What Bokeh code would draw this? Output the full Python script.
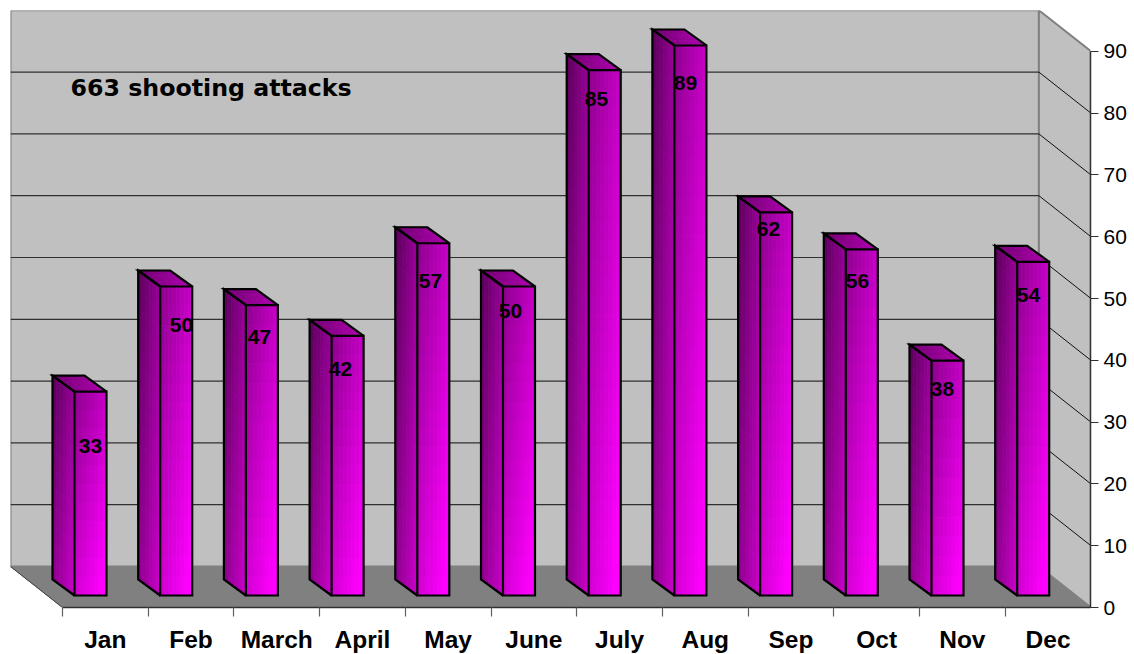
from bokeh.plotting import figure
from bokeh.models import Range1d, FixedTicker, LinearAxis, ColumnDataSource
from bokeh.core.properties import value
from bokeh.embed import file_html
from bokeh.resources import INLINE

# ---- data ----
months = ["Jan", "Feb", "March", "April", "May", "June", "July", "Aug", "Sep", "Oct", "Nov", "Dec"]
attacks = [33, 50, 47, 42, 57, 50, 85, 89, 62, 56, 38, 54]
y_ticks = [0, 10, 20, 30, 40, 50, 60, 70, 80, 90]
annotation = "663 shooting attacks"

# ---- layout constants (pixels on the page) ----
PX_X0, PX_SLOT = 62.0, 85.7      # page x of category 0, slot width
PX_Y0, PX_UNIT = 607.0, 6.18     # page y of value 0, pixels per unit
FRAME_L, FRAME_R, FRAME_T = 10.0, 1090.0, 10.0
WALL_DX, WALL_DY = -52 / PX_SLOT, 41 / PX_UNIT
BAR_L, BAR_R = 12 / PX_SLOT, 44 / PX_SLOT
BAR_BASE = 12 / PX_UNIT
BAR_DX, BAR_DY = -22 / PX_SLOT, 16 / PX_UNIT
# page positions of the hand-placed data labels
label_px = [90, 181, 259, 340, 430, 510, 596, 685, 768, 857, 942, 1028]
label_py = [445, 324, 336, 368, 280, 310, 98, 82, 228, 280, 388, 294]


def ux(px):
    return (px - PX_X0) / PX_SLOT


def vy(py):
    return (PX_Y0 - py) / PX_UNIT


p = figure(
    frame_width=int(FRAME_R - FRAME_L), frame_height=int(PX_Y0 - FRAME_T),
    x_range=Range1d(ux(FRAME_L), ux(FRAME_R)), y_range=Range1d(0, vy(FRAME_T)),
    y_axis_location="right", x_axis_location=None,
    output_backend="svg", toolbar_location=None,
    min_border_left=int(FRAME_L), min_border_top=int(FRAME_T), min_border_right=0, min_border_bottom=0,
    background_fill_color="white", border_fill_color="white",
)
p.outline_line_color = None
p.grid.visible = False

TOP_V = max(y_ticks)
GREY = "#808080"
WALL = "#c0c0c0"
N = len(months)

# walls and floor
p.patch([WALL_DX, N + WALL_DX, N + WALL_DX, WALL_DX], [WALL_DY, WALL_DY, TOP_V + WALL_DY, TOP_V + WALL_DY],
        fill_color=WALL, line_color=GREY, line_width=2)
p.patch([N + WALL_DX, N, N, N + WALL_DX], [WALL_DY, 0, TOP_V, TOP_V + WALL_DY],
        fill_color=WALL, line_color=GREY, line_width=2)
p.patch([WALL_DX, N + WALL_DX, N, 0], [WALL_DY, WALL_DY, 0, 0],
        fill_color=GREY, line_color=GREY, line_width=1)
p.line([WALL_DX, 0], [WALL_DY, 0], line_color="#404040", line_width=1)

# gridlines
for t in y_ticks[1:-1]:
    p.line([WALL_DX, N + WALL_DX], [t + WALL_DY, t + WALL_DY], line_color="#303030", line_width=1.2)
    p.line([N + WALL_DX, N], [t + WALL_DY, t], line_color="#101010", line_width=1)


def mix(a, b, t):
    t = max(0.0, min(1.0, t))
    r = int(round(a + (b - a) * t))
    return "#%02x00%02x" % (r, r)


def add_face(store, corner, ex, ey, cols, rows, lo, hi, wx, wy):
    """Fill parallelogram corner + s*ex + r*ey with a diagonal gradient."""
    for i in range(cols):
        for j in range(rows):
            s0, s1 = i / cols, (i + 1) / cols
            r0, r1 = j / rows, (j + 1) / rows
            xs = [corner[0] + s * ex[0] + r * ey[0] for s, r in ((s0, r0), (s1, r0), (s1, r1), (s0, r1))]
            ys = [corner[1] + s * ex[1] + r * ey[1] for s, r in ((s0, r0), (s1, r0), (s1, r1), (s0, r1))]
            c = mix(lo, hi, wx * (s0 + s1) / 2 + wy * (r0 + r1) / 2)
            store["xs"].append(xs)
            store["ys"].append(ys)
            store["c"].append(c)


cells = {"xs": [], "ys": [], "c": []}
edges_x, edges_y = [], []
for i, v in enumerate(attacks):
    l, r = i + BAR_L, i + BAR_R
    b, t = BAR_BASE, BAR_BASE + v
    w = r - l
    rows = max(8, int(v / 3))
    # front: dark top-left to bright bottom-right (corner is top-left, ey runs down)
    add_face(cells, (l, t), (w, 0), (0, -v), 8, rows, 0x8c, 0xff, 0.5, 0.6)
    # side
    add_face(cells, (l + BAR_DX, t + BAR_DY), (-BAR_DX, -BAR_DY), (0, -v), 6, rows, 0x58, 0xcc, 0.55, 0.45)
    # top
    add_face(cells, (l + BAR_DX, t + BAR_DY), (w, 0), (-BAR_DX, -BAR_DY), 6, 3, 0x70, 0xb0, 0.6, 0.4)
    # outlines
    edges_x += [[l, r, r, l, l],
                [l, l + BAR_DX, l + BAR_DX, l],
                [l, l + BAR_DX, l + BAR_DX + w, r]]
    edges_y += [[t, t, b, b, t],
                [b, b + BAR_DY, t + BAR_DY, t],
                [t, t + BAR_DY, t + BAR_DY, t]]

p.patches("xs", "ys", source=ColumnDataSource(cells), fill_color="c", line_color="c", line_width=0.8)
p.multi_line(edges_x, edges_y, line_color="black", line_width=2.2, line_join="miter")

# data labels
p.text([ux(x) for x in label_px], [vy(y) for y in label_py], text=[str(v) for v in attacks],
       text_font=value("Liberation Sans"), text_font_style="bold", text_font_size="21px",
       text_color="black", text_align="center", text_baseline="middle")

# annotation
p.text([ux(70)], [vy(87.5)], text=[annotation],
       text_font=value("DejaVu Sans"), text_font_style="bold", text_font_size="23.7px",
       text_color="black", text_align="left", text_baseline="middle")

# right value axis
ya = p.yaxis[0]
ya.ticker = FixedTicker(ticks=y_ticks)
ya.bounds = (0, TOP_V)
ya.axis_line_color = "#303030"
ya.axis_line_width = 1.5
ya.major_tick_line_color = "#303030"
ya.major_tick_line_width = 1.2
ya.major_tick_out = 8
ya.major_tick_in = 0
ya.minor_tick_line_color = None
ya.major_label_standoff = 5
ya.major_label_text_font = "Liberation Sans"
ya.major_label_text_font_size = "21px"
ya.major_label_text_color = "black"

# bottom axis: month names at slot centres, slot boundaries as (minor) ticks
centres = [i + 0.5 for i in range(N)]
xa = LinearAxis(ticker=FixedTicker(ticks=centres, minor_ticks=list(range(N + 1))),
                major_label_overrides={c: m for c, m in zip(centres, months)},
                bounds=(0, N))
xa.axis_line_color = "#303030"
xa.axis_line_width = 1.5
xa.major_tick_line_color = None
xa.major_tick_out = 9
xa.major_tick_in = 0
xa.minor_tick_line_color = "#606060"
xa.minor_tick_line_width = 1.2
xa.minor_tick_out = 9
xa.minor_tick_in = 0
xa.major_label_standoff = 9
xa.major_label_text_font = "Liberation Sans"
xa.major_label_text_font_style = "bold"
xa.major_label_text_font_size = "24.5px"
xa.major_label_text_color = "black"
p.add_layout(xa, "below")

open("out.html", "w").write(file_html(p, INLINE))
